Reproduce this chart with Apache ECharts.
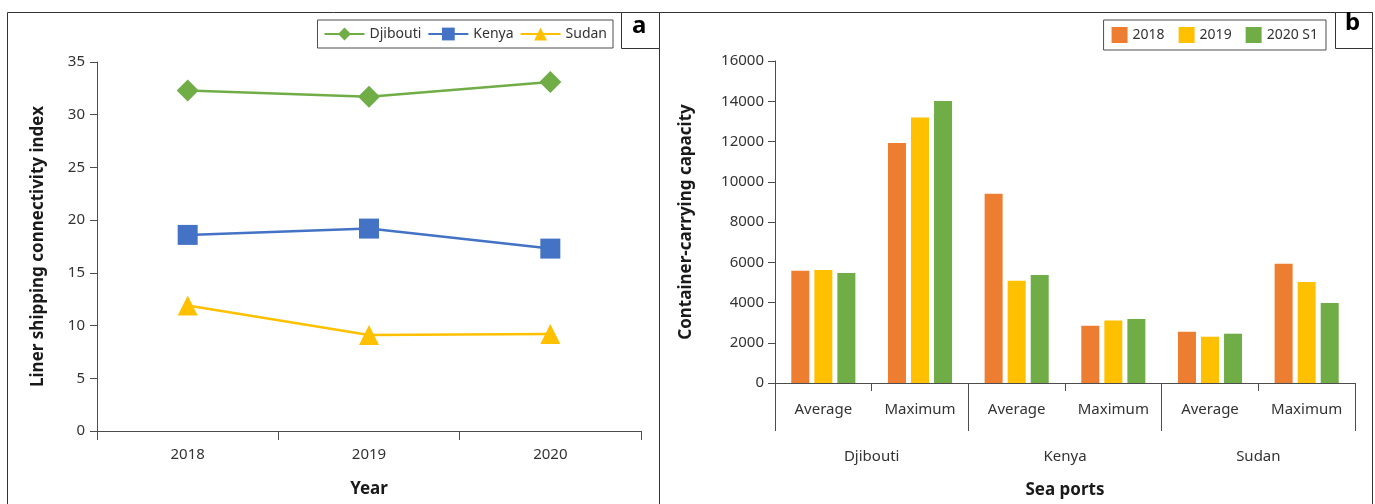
<!DOCTYPE html>
<html><head><meta charset="utf-8">
<script src="https://cdn.jsdelivr.net/npm/echarts@6/dist/echarts.min.js"></script>
<style>html,body{margin:0;padding:0;background:#fff}#c{width:1375px;height:504px}</style>
</head><body><div id="c"></div>
<script>
// Panel a data
const years = ['2018', '2019', '2020'];
const djiboutiLSCI = [32.3, 31.7, 33.1];
const kenyaLSCI = [18.6, 19.2, 17.3];
const sudanLSCI = [11.9, 9.1, 9.2];
// Panel b data
const measures = ['Average', 'Maximum', 'Average', 'Maximum', 'Average', 'Maximum'];
const ports = ['Djibouti', 'Kenya', 'Sudan'];
const cap2018 = [5580, 11930, 9400, 2850, 2550, 5920];
const cap2019 = [5610, 13190, 5080, 3110, 2300, 5015];
const cap2020S1 = [5470, 14010, 5365, 3180, 2450, 3975];

const FONT = 'Noto Sans';
const TXT = '#333';
const AX = '#4d4d4d';

const chart = echarts.init(document.getElementById('c'), null, {renderer: 'canvas'});
const tickLbl = {fontFamily: FONT, fontSize: 15, color: TXT};
const nameSty = {fontFamily: FONT, fontSize: 17, fontWeight: 'bold', color: '#1a1a1a'};

chart.setOption({
  animation: false,
  backgroundColor: '#fff',
  textStyle: {fontFamily: FONT},
  grid: [
    {left: 97, top: 62, width: 544, height: 369},
    {left: 775, top: 61, width: 580, height: 322}
  ],
  legend: [
    {
      data: ['Djibouti', 'Kenya', 'Sudan'],
      right: 762, top: 20,
      itemWidth: 40, itemHeight: 16, itemGap: 6,
      padding: [7, 6, 7, 6],
      borderColor: AX, borderWidth: 1,
      textStyle: {fontFamily: FONT, fontSize: 14, color: TXT}
    },
    {
      data: ['2018', '2019', '2020 S1'],
      right: 49, top: 20,
      itemWidth: 16, itemHeight: 16, itemGap: 14,
      padding: [7, 8, 7, 8],
      borderColor: AX, borderWidth: 1,
      icon: 'rect',
      textStyle: {fontFamily: FONT, fontSize: 14, color: TXT}
    }
  ],
  xAxis: [
    {
      gridIndex: 0, type: 'category', data: years, boundaryGap: true,
      name: 'Year', nameLocation: 'middle', nameGap: 50, nameTextStyle: nameSty,
      axisLine: {lineStyle: {color: AX, width: 1}},
      axisTick: {show: true, length: 9, lineStyle: {color: AX}},
      axisLabel: Object.assign({margin: 16}, tickLbl)
    },
    {
      gridIndex: 1, type: 'category', data: measures, boundaryGap: true,
      axisLine: {lineStyle: {color: AX, width: 1}},
      axisTick: {show: true, length: 8, interval: 0, lineStyle: {color: AX}},
      axisLabel: Object.assign({margin: 19, interval: 0}, tickLbl)
    },
    {
      gridIndex: 1, type: 'category', data: ports, boundaryGap: true, position: 'bottom',
      name: 'Sea ports', nameLocation: 'middle', nameGap: 99, nameTextStyle: nameSty,
      axisLine: {show: true, lineStyle: {color: AX, opacity: 0}},
      axisTick: {show: true, length: 48, interval: 0, lineStyle: {color: AX}},
      axisLabel: Object.assign({margin: 66, interval: 0}, tickLbl)
    }
  ],
  yAxis: [
    {
      gridIndex: 0, type: 'value', min: 0, max: 35, interval: 5,
      name: 'Liner shipping connectivity index', nameLocation: 'middle', nameGap: 50,
      nameTextStyle: nameSty,
      axisLine: {show: true, lineStyle: {color: AX}},
      axisTick: {show: true, length: 7, lineStyle: {color: AX}},
      splitLine: {show: false},
      axisLabel: Object.assign({margin: 12}, tickLbl)
    },
    {
      gridIndex: 1, type: 'value', min: 0, max: 16000, interval: 2000,
      name: 'Container-carrying capacity', nameLocation: 'middle', nameGap: 80,
      nameTextStyle: nameSty,
      axisLine: {show: true, lineStyle: {color: AX}},
      axisTick: {show: true, length: 7, lineStyle: {color: AX}},
      splitLine: {show: false},
      axisLabel: Object.assign({margin: 11, formatter: v => String(v)}, tickLbl)
    }
  ],
  series: [
    {name: 'Djibouti', type: 'line', xAxisIndex: 0, yAxisIndex: 0, data: djiboutiLSCI,
     symbol: 'diamond', symbolSize: 22, color: '#70AD47', lineStyle: {width: 2.5}},
    {name: 'Kenya', type: 'line', xAxisIndex: 0, yAxisIndex: 0, data: kenyaLSCI,
     symbol: 'rect', symbolSize: 20, color: '#4472C4', lineStyle: {width: 2.5}},
    {name: 'Sudan', type: 'line', xAxisIndex: 0, yAxisIndex: 0, data: sudanLSCI,
     symbol: 'triangle', symbolSize: 20, color: '#FFC000', lineStyle: {width: 2.5}},
    {name: '2018', type: 'bar', xAxisIndex: 1, yAxisIndex: 1, data: cap2018,
     color: '#ED7D31', barWidth: 18, barGap: '28%'},
    {name: '2019', type: 'bar', xAxisIndex: 1, yAxisIndex: 1, data: cap2019,
     color: '#FFC000', barWidth: 18, barGap: '28%'},
    {name: '2020 S1', type: 'bar', xAxisIndex: 1, yAxisIndex: 1, data: cap2020S1,
     color: '#70AD47', barWidth: 18, barGap: '28%'}
  ],
  graphic: [
    {type: 'rect', shape: {x: 7.5, y: 12.5, width: 652, height: 500}, style: {fill: 'none', stroke: '#333', lineWidth: 1}},
    {type: 'rect', shape: {x: 659.5, y: 12.5, width: 713, height: 500}, style: {fill: 'none', stroke: '#333', lineWidth: 1}},
    {type: 'rect', shape: {x: 621.5, y: 12.5, width: 38, height: 36}, style: {fill: '#fff', stroke: '#333', lineWidth: 1}},
    {type: 'rect', shape: {x: 1335.5, y: 12.5, width: 37, height: 36}, style: {fill: '#fff', stroke: '#333', lineWidth: 1}},
    {type: 'text', left: 632, top: 14, style: {text: 'a', font: 'bold 24px "Noto Sans"', fill: '#000'}},
    {type: 'text', left: 1345, top: 11, style: {text: 'b', font: 'bold 24px "Noto Sans"', fill: '#000'}}
  ]
});
</script></body></html>
